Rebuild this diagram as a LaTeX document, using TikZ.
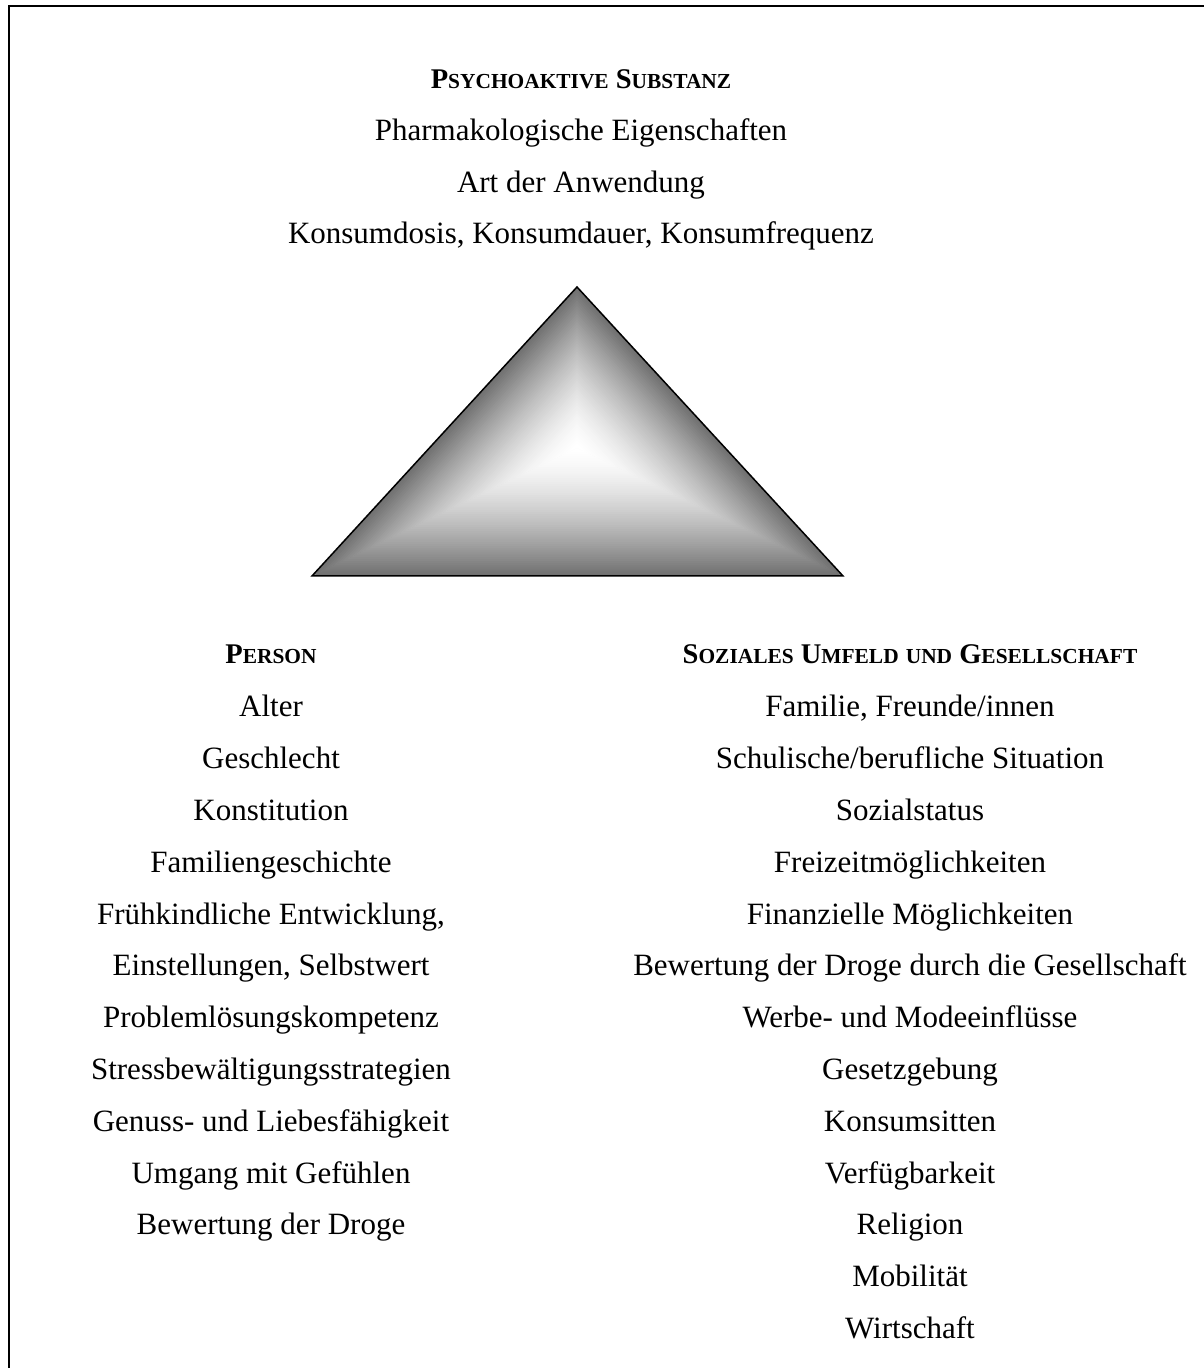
\documentclass[tikz,border=0pt]{standalone}
\usepackage{fontspec}
\setmainfont{Liberation Serif}
\usetikzlibrary{calc}
\definecolor{tgray}{RGB}{112,112,112}
\tikzset{
  item/.style={anchor=base, inner sep=0pt, font=\fontsize{31}{37}\selectfont},
  head/.style={anchor=base, inner sep=0pt, font=\fontsize{28.5}{34}\selectfont\bfseries},
  frame/.style={line width=2pt, draw=black},
  triedge/.style={line width=1.5pt, draw=black, line join=miter}
}
\newcommand{\hsc}[2]{#1{\fontsize{21.4}{26}\selectfont #2}}
\begin{document}
\begin{tikzpicture}[x=1pt,y=1pt]
\useasboundingbox (0,0) rectangle (1203,1368);
% frame (right and bottom edges lie outside the visible area)
\draw[frame] (8.5,1362) rectangle (1215,-15);

% top block
\node[head] (subst) at (581,1279) {\hsc{P}{SYCHOAKTIVE} \hsc{S}{UBSTANZ}};
\node[item] (t1) at (581,1227) {Pharmakologische Eigenschaften};
\node[item] (t2) at (581,1175) {Art der Anwendung};
\node[item] (t3) at (581,1124) {Konsumdosis, Konsumdauer, Konsumfrequenz};

% triangle
\coordinate (A) at (312,792);
\coordinate (B) at (843,792);
\coordinate (P) at (577,1081);
\coordinate (C) at (577,920);
\foreach \k in {0,...,59}{
  \pgfmathsetmacro\tt{\k/60}
  \pgfmathsetmacro\cc{100*(1-(1-\k/59)^1.5)}
  \fill[white!\cc!tgray] ($(A)!\tt!(C)$) -- ($(B)!\tt!(C)$) -- (C) -- cycle;
  \fill[white!\cc!tgray] ($(B)!\tt!(C)$) -- ($(P)!\tt!(C)$) -- (C) -- cycle;
  \fill[white!\cc!tgray] ($(P)!\tt!(C)$) -- ($(A)!\tt!(C)$) -- (C) -- cycle;
}
\draw[triedge] (A) -- (B) -- (P) -- cycle;

% left column
\node[head] (person) at (271,704) {\hsc{P}{ERSON}};
\foreach \txt [count=\i from 0] in {{Alter},{Geschlecht},{Konstitution},{Familiengeschichte},{Frühkindliche Entwicklung,},{Einstellungen, Selbstwert},{Problemlösungskompetenz},{Stressbewältigungsstrategien},{Genuss- und Liebesfähigkeit},{Umgang mit Gefühlen},{Bewertung der Droge}}{
  \node[item] (L\i) at (271,{651-51.8*\i}) {\txt};
}

% right column
\node[head] (umfeld) at (910,704) {\hsc{S}{OZIALES} \hsc{U}{MFELD} \hsc{}{UND} \hsc{G}{ESELLSCHAFT}};
\foreach \txt [count=\i from 0] in {{Familie, Freunde/innen},{Schulische/berufliche Situation},{Sozialstatus},{Freizeitmöglichkeiten},{Finanzielle Möglichkeiten},{Bewertung der Droge durch die Gesellschaft},{Werbe- und Modeeinflüsse},{Gesetzgebung},{Konsumsitten},{Verfügbarkeit},{Religion},{Mobilität},{Wirtschaft}}{
  \node[item] (R\i) at (910,{651-51.8*\i}) {\txt};
}
\end{tikzpicture}
\end{document}
